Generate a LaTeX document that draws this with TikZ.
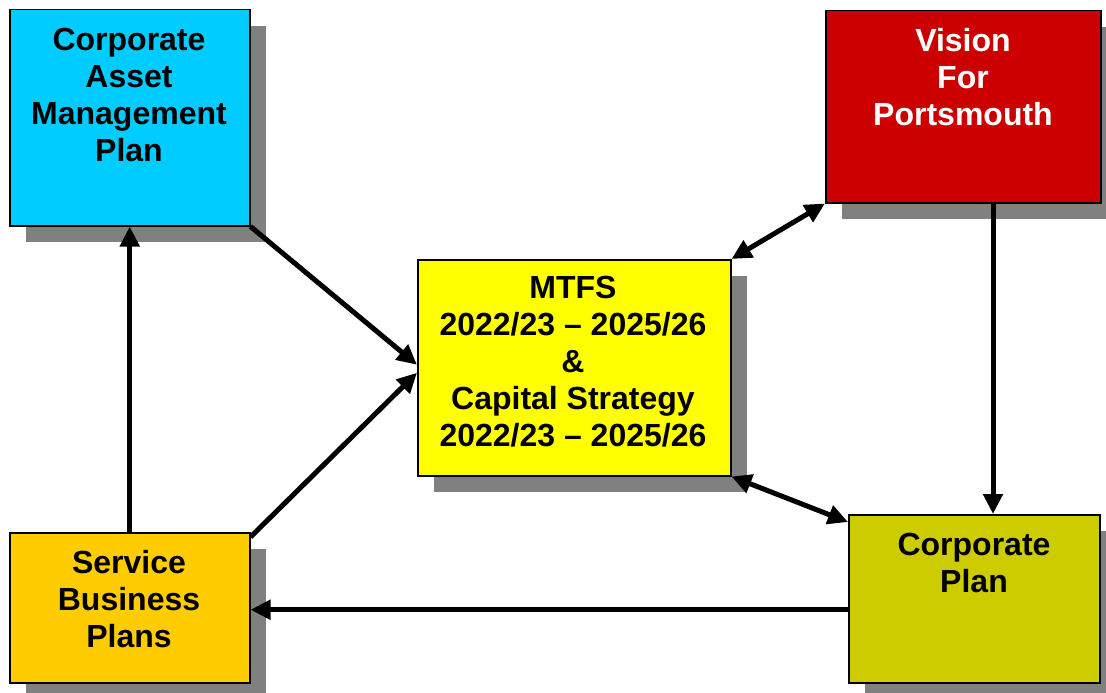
\documentclass[tikz,border=0pt]{standalone}
\usepackage{fontspec}
\setmainfont{Liberation Sans}
\usetikzlibrary{arrows.meta,shadows,calc}
\definecolor{camc}{RGB}{0,204,255}
\definecolor{visc}{RGB}{204,0,0}
\definecolor{mtfsc}{RGB}{255,255,0}
\definecolor{sbpc}{RGB}{255,204,0}
\definecolor{cpc}{RGB}{204,204,0}
\definecolor{shadowc}{RGB}{128,128,128}
\tikzset{
  box/.style={draw=black, line width=1.5pt, inner sep=0pt, anchor=north west,
    general shadow={fill=shadowc, shadow xshift=16pt, shadow yshift=-16pt}},
  boxtext/.style={anchor=north, inner sep=0pt, align=center,
    font=\fontsize{32}{37}\selectfont\bfseries},
  tip/.style={},
  arr/.style={line width=5pt, -{Triangle[length=20pt,width=19pt]}},
  darr/.style={line width=5pt, {Triangle[length=20pt,width=19pt]}-{Triangle[length=20pt,width=19pt]}}
}
\begin{document}
\begin{tikzpicture}[x=1pt,y=-1pt]
\useasboundingbox (0,0) rectangle (1106,693);
% boxes
\node[box, fill=camc, minimum width=240pt, minimum height=216pt] (cam) at (9,9) {};
\node[box, fill=visc, minimum width=275pt, minimum height=192pt] (vis) at (825,10) {};
\node[box, fill=mtfsc, minimum width=313pt, minimum height=216pt] (mtfs) at (417,259) {};
\node[box, fill=sbpc, minimum width=240pt, minimum height=150pt] (sbp) at (9,532) {};
\node[box, fill=cpc, minimum width=251pt, minimum height=168pt] (cp) at (848,514) {};
% texts
\node[boxtext] (camt) at (129,28) {Corporate\\Asset\\Management\\Plan};
\node[boxtext, text=white] (vist) at (963,28) {Vision\\For\\Portsmouth};
\node[boxtext] (mtfst) at (573,276) {MTFS\\2022/23 – 2025/26\\\&\\Capital Strategy\\2022/23 – 2025/26};
\node[boxtext] (sbpt) at (129,550) {Service\\Business\\Plans};
\node[boxtext] (cpt) at (974,533) {Corporate\\Plan};
% connectors
\draw[arr] (sbp.north) -- (cam.south);
\draw[arr] (cam.south east) -- ($(mtfs.west)+(0,-3)$);
\draw[arr] ($(sbp.north east)+(0,5)$) -- ($(mtfs.west)+(0,5)$);
\draw[darr] (mtfs.north east) -- (vis.south west);
\draw[darr] (mtfs.south east) -- ($(cp.north west)+(0,8)$);
\draw[arr] ($(vis.south west)+(168,0)$) -- ($(cp.north west)+(145,0)$);
\draw[arr] ($(cp.west)+(0,11)$) coordinate (c7) -- (c7 -| sbp.east);
\end{tikzpicture}
\end{document}
